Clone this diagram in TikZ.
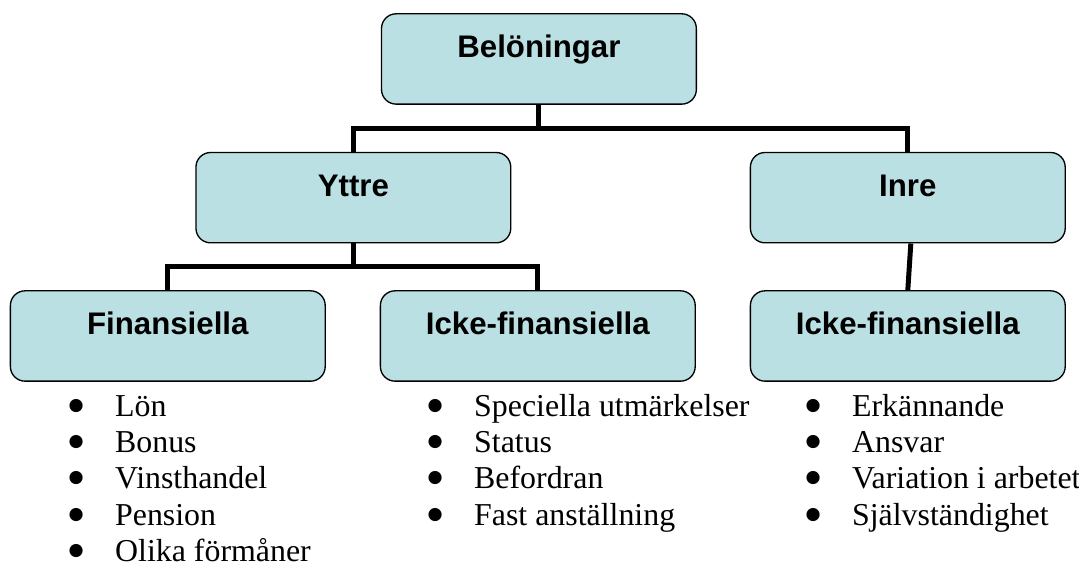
\documentclass[tikz,border=0pt]{standalone}
\usepackage{fontspec}
\setmainfont{Liberation Serif}
\setsansfont{Liberation Sans}
\newfontfamily\tecken{DejaVu Sans}
\definecolor{boxblue}{RGB}{187,224,227}
\newcommand{\punkt}{\makebox[35pt][l]{\raisebox{4.5pt}{\tecken\fontsize{13}{13}\selectfont ●}}}

\begin{document}
\begin{tikzpicture}[ruta/.style = {draw, fill=boxblue, line width=1pt, rounded corners=11pt,
                     minimum width=237pt, minimum height=68pt,
                     text height=17pt, text depth=19.2pt,
                     font=\sffamily\bfseries\fontsize{23.5}{27}\selectfont},
                    lista/.style = {anchor=base west, inner sep=0pt,
                     font=\rmfamily\fontsize{24}{27.4}\selectfont},
                    linje/.style = {line width=3.75pt}]
\useasboundingbox (0,0) rectangle (28.55,-15.35);

\node[ruta] (bel) at (14.26,-1.56) {Belöningar};
\node[ruta] (yttre) at (9.35,-5.23) {Yttre};
\node[ruta] (inre) at (24.02,-5.23) {Inre};
\node[ruta] (fin) at (4.44,-8.89) {Finansiella};
\node[ruta] (ickeY) at (14.23,-8.89) {Icke-finansiella};
\node[ruta] (ickeI) at (24.02,-8.89) {Icke-finansiella};

\coordinate (buss1) at (0,-3.40);
\coordinate (buss2) at (0,-7.05);

\draw[linje] (bel.south) -- (bel.south |- buss1) -| (yttre.north);
\draw[linje] (bel.south |- buss1) -| (inre.north);
\draw[linje] (yttre.south) -- (yttre.south |- buss2) -| (fin.north);
\draw[linje] (yttre.south |- buss2) -| (ickeY.north);
\draw[linje] ([xshift=0.08cm]inre.south) -- (ickeI.north);

\node[lista] (listF) at (1.81,-11.01) {\begin{tabular}[t]{@{}l@{}}
\punkt Lön\\
\punkt Bonus\\
\punkt Vinsthandel\\
\punkt Pension\\
\punkt Olika förmåner
\end{tabular}};
\node[lista] (listY) at (11.31,-11.01) {\begin{tabular}[t]{@{}l@{}}
\punkt Speciella utmärkelser\\
\punkt Status\\
\punkt Befordran\\
\punkt Fast anställning
\end{tabular}};
\node[lista] (listI) at (21.31,-11.01) {\begin{tabular}[t]{@{}l@{}}
\punkt Erkännande\\
\punkt Ansvar\\
\punkt Variation i arbetet\\
\punkt Självständighet
\end{tabular}};
\end{tikzpicture}
\end{document}
